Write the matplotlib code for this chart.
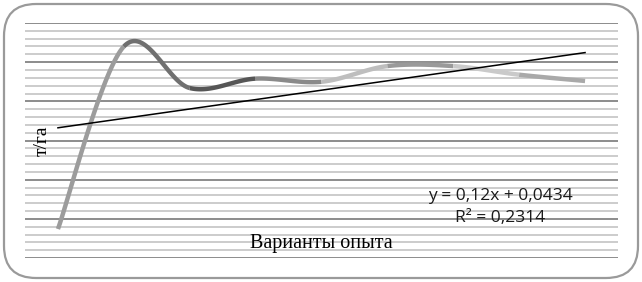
import numpy as np
import matplotlib.pyplot as plt
from matplotlib.patches import FancyBboxPatch
from matplotlib.ticker import MultipleLocator

# variants of the experiment and yield, t/ha
variants = [1, 2, 3, 4, 5, 6, 7, 8, 9]
yields = [-1.13, 1.20, 0.67, 0.79, 0.75, 0.95, 0.95, 0.84, 0.76]
seg_colors = ['#9c9c9c', '#707070', '#565656', '#8a8a8a',
              '#bebebe', '#9a9a9a', '#cacaca', '#a9a9a9']

eq_text = 'y = 0,12x + 0,0434'
r2_text = 'R² = 0,2314'
x_title = 'Варианты опыта'
y_title = 'т/га'


def smooth_segment(p, i, n=40):
    # excel-like bezier smoothing between point i and i+1
    p0 = p[max(i - 1, 0)]
    p1 = p[i]
    p2 = p[i + 1]
    p3 = p[min(i + 2, len(p) - 1)]
    c1 = p1 + (p2 - p0) / 6
    c2 = p2 - (p3 - p1) / 6
    t = np.linspace(0, 1, n)[:, None]
    return ((1 - t) ** 3 * p1 + 3 * (1 - t) ** 2 * t * c1
            + 3 * (1 - t) * t ** 2 * c2 + t ** 3 * p2)


fig = plt.figure(figsize=(6.42, 2.82), dpi=100)
box = FancyBboxPatch((4 / 642, 4 / 282), 634 / 642, 274 / 282,
                     boxstyle='round,pad=0,rounding_size=0.05',
                     transform=fig.transFigure, facecolor='none',
                     edgecolor='#9a9a9a', linewidth=1.6,
                     mutation_aspect=642 / 282, zorder=-1)
fig.patches.append(box)

ax = fig.add_axes([25 / 642, 24 / 282, 593 / 642, 235 / 282])
ax.set_facecolor('none')
ax.set_xlim(0.5, 9.5)
ax.set_ylim(-1.5, 1.5)
ax.yaxis.set_major_locator(MultipleLocator(0.5))
ax.yaxis.set_minor_locator(MultipleLocator(0.1))
ax.grid(True, which='minor', axis='y', color='#c8c8c8', linewidth=1.3)
ax.grid(True, which='major', axis='y', color='#8c8c8c', linewidth=1.4)
ax.set_axisbelow(True)
ax.tick_params(which='both', left=False, bottom=False,
               labelleft=False, labelbottom=False)
for s in ax.spines.values():
    s.set_visible(False)

pts = np.column_stack([variants, yields]).astype(float)
for i in range(len(pts) - 1):
    seg = smooth_segment(pts, i)
    ax.plot(seg[:, 0], seg[:, 1], color=seg_colors[i], linewidth=3.2,
            solid_capstyle='butt')

k, b = np.polyfit(variants, yields, 1)
xs = np.array([variants[0], variants[-1]])
ax.plot(xs, k * xs + b, color='black', linewidth=1.1)

fig.text(0.779, 0.305, eq_text, ha='center', va='center', fontsize=12.5,
         family='Open Sans', color='#1a1a1a')
fig.text(0.779, 0.227, r2_text, ha='center', va='center', fontsize=12.5,
         family='Open Sans', color='#1a1a1a')
fig.text(0.5, 0.135, x_title, ha='center', va='center', fontsize=14.5,
         family='Liberation Serif')
fig.text(0.065, 0.5, y_title, ha='center', va='center', fontsize=14,
         rotation=90, family='Liberation Serif')

fig.savefig('out.png', dpi=100)
